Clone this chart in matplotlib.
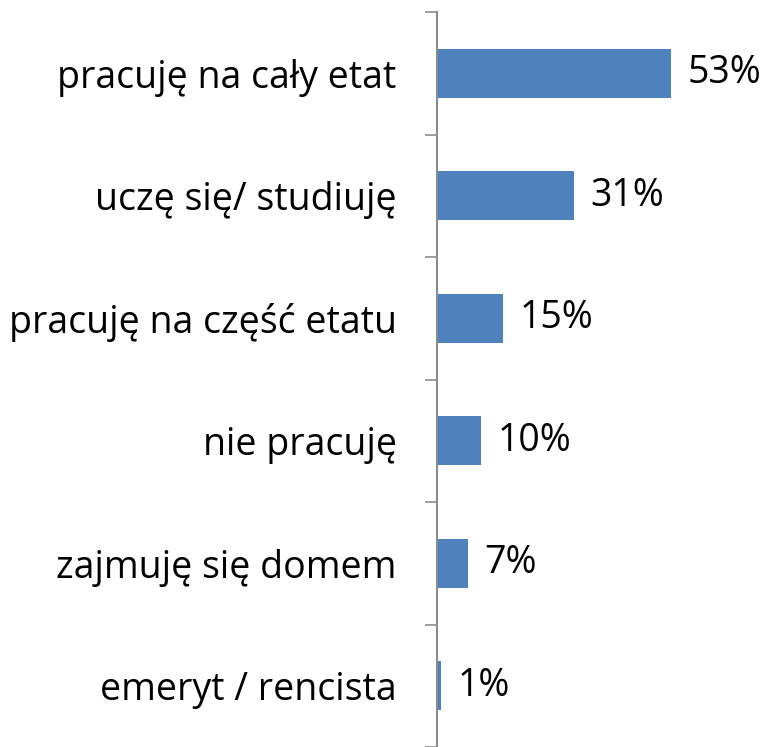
import numpy as np
import matplotlib
matplotlib.use("Agg")
import matplotlib.pyplot as plt

categories = ["pracuję na cały etat", "uczę się/ studiuję", "pracuję na część etatu",
              "nie pracuję", "zajmuję się domem", "emeryt / rencista"]
values = [53, 31, 15, 10, 7, 1]
labels = ["53%", "31%", "15%", "10%", "7%", "1%"]

plt.rcParams['font.family'] = ['Open Sans', 'DejaVu Sans']

fig = plt.figure(figsize=(7.8, 7.47), dpi=100)
ax = fig.add_axes([437 / 780, 0, 1 - 437 / 780, 735 / 747])

y = np.arange(len(categories))
ax.barh(y, values, height=0.4, color="#4F81BD")
ax.set_ylim(len(categories) - 0.5, -0.5)
ax.set_xlim(0, (780 - 437) / 4.42)

for yi, v, lab in zip(y, values, labels):
    ax.annotate(lab, (v, yi), xytext=(12, 0), textcoords="offset points",
                va="center", ha="left", fontsize=27, color="black")

ax.set_yticks(y)
ax.set_yticklabels(categories, fontsize=27)
ax.tick_params(axis="y", which="major", length=0, pad=29)
ax.set_yticks(np.arange(-0.5, len(categories) - 0.4, 1), minor=True)
ax.tick_params(axis="y", which="minor", length=9, width=1.2, color="#8C8C8C")
ax.set_xticks([])

for s in ["top", "right", "bottom"]:
    ax.spines[s].set_visible(False)
ax.spines["left"].set_color("#8C8C8C")
ax.spines["left"].set_linewidth(1.5)

fig.savefig("out.png", dpi=100)
